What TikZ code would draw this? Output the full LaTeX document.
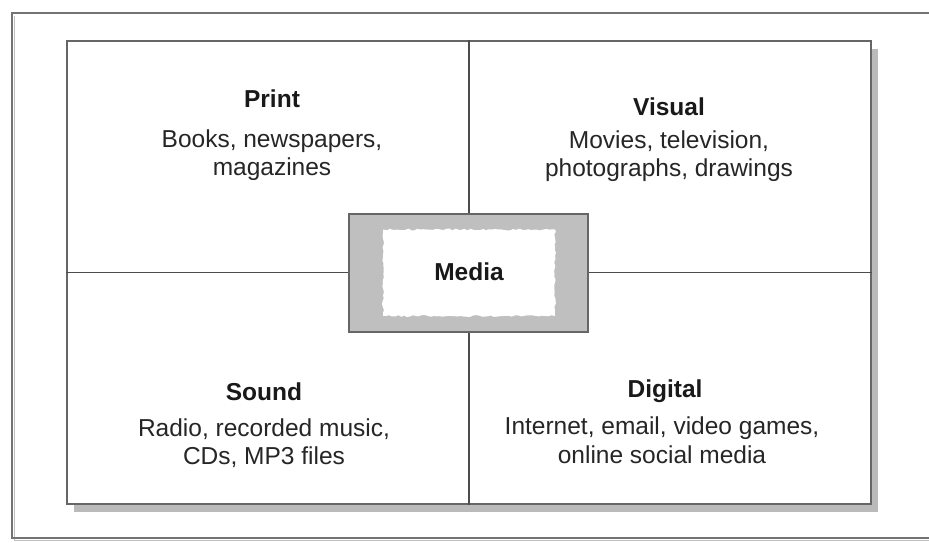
\documentclass[tikz,border=0pt]{standalone}
\usepackage{fontspec}
\setmainfont{Liberation Sans}
\usetikzlibrary{decorations.pathmorphing}
\begin{document}
\begin{tikzpicture}[x=1pt,y=-1pt,
  frameline/.style={draw=black!55, line width=1.5pt},
  divider/.style={draw=black!70, line width=1.1pt},
  panel/.style={draw=black!60, line width=1.5pt, fill=white, inner sep=0,
    minimum width=804pt, minimum height=463pt},
  hubbox/.style={draw=black!60, line width=1.5pt, fill=black!25, inner sep=0,
    minimum width=239pt, minimum height=118pt},
  head/.style={font=\fontsize{24.5}{28}\selectfont\bfseries, inner sep=0, text=black!90},
  body/.style={font=\fontsize{24.5}{28.5}\selectfont, align=center, inner sep=0, text=black!85},
]
\pgfmathsetseed{7}
\useasboundingbox (0,0) rectangle (929,543);

% outer frame, running off the right edge
\begin{scope}
  \clip (0,0) rectangle (929,543);
  \draw[black!25, line width=1.5pt] (14.5,16) -- (14.5,540.5) -- (940,540.5);
  \draw[frameline] (940,13) -- (12,13) -- (12,538) -- (940,538);
\end{scope}

% main panel with drop shadow
\fill[black!27] (74,49) rectangle (878,512);
\node[panel] (panel) at (469,272.5) {};

% quadrant dividers
\draw[divider] (panel.north) -- (panel.south);
\draw[divider] (panel.west) -- (panel.east);

% central hub
\node[hubbox] (hub) at (468.5,273) {};
\fill[white, decorate, decoration={random steps, segment length=3pt, amplitude=0.9pt}]
  (383,229.5) rectangle (555,316);
\node[head] (media) at (469,272) {Media};

% quadrant labels
\node[head] (print) at (272,99) {Print};
\node[body] (printtxt) at (272,155) {Books, newspapers,\\magazines};

\node[head] (visual) at (669,107) {Visual};
\node[body] (visualtxt) at (669,156) {Movies, television,\\photographs, drawings};

\node[head] (sound) at (264,392) {Sound};
\node[body] (soundtxt) at (264,443) {Radio, recorded music,\\CDs, MP3 files};

\node[head] (digital) at (665,391) {Digital};
\node[body] (digitaltxt) at (662,440) {Internet, email, video games,\\online social media};
\end{tikzpicture}
\end{document}
